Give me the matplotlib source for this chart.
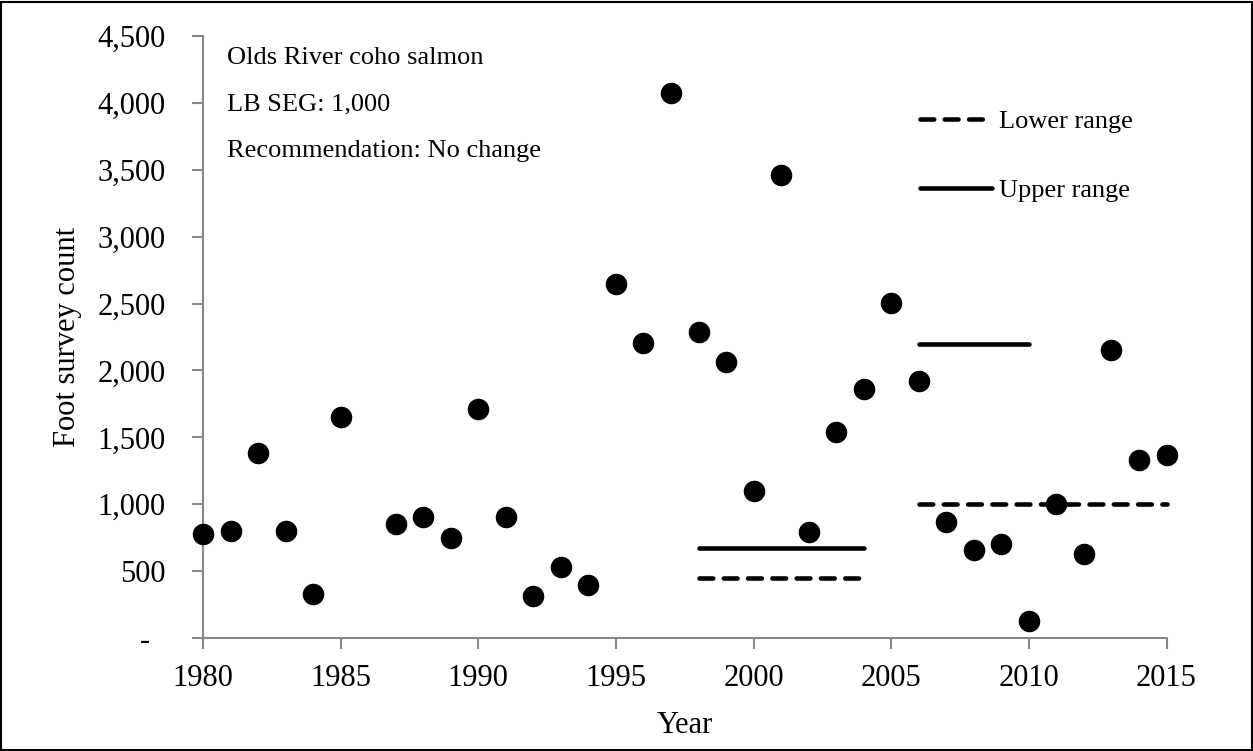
import matplotlib
matplotlib.use("Agg")
import matplotlib.pyplot as plt
from matplotlib.ticker import FuncFormatter, MultipleLocator

# Foot survey counts by year (1986 missing)
years = [1980, 1981, 1982, 1983, 1984, 1985, 1987, 1988, 1989, 1990, 1991,
         1992, 1993, 1994, 1995, 1996, 1997, 1998, 1999, 2000, 2001, 2002,
         2003, 2004, 2005, 2006, 2007, 2008, 2009, 2010, 2011, 2012, 2013,
         2014, 2015]
counts = [780, 800, 1380, 800, 327, 1650, 850, 905, 747, 1710, 905,
          312, 528, 396, 2650, 2205, 4075, 2285, 2060, 1100, 3460, 795,
          1540, 1865, 2505, 1920, 870, 660, 700, 130, 1005, 630, 2155,
          1330, 1365]

# Escapement goal ranges (start year, end year, value)
lower_range = [(1998, 2004, 450), (2006, 2015, 1000)]
upper_range = [(1998, 2004, 675), (2006, 2010, 2200)]

plt.rcParams['font.family'] = ['Liberation Serif', 'DejaVu Serif']

fig = plt.figure(figsize=(12.53, 7.51), dpi=100)
ax = fig.add_axes([0.162, 0.1505, 0.769, 0.8015])

ax.plot(years, counts, 'o', color='black', ms=14.5, zorder=3, clip_on=False)

for i, (x0, x1, v) in enumerate(lower_range):
    ax.plot([x0, x1], [v, v], color='black', lw=3.3, ls=(0, (3.0, 2.3)),
            dash_capstyle='round', solid_capstyle='round', clip_on=False,
            label='Lower range' if i == 0 else None)
for i, (x0, x1, v) in enumerate(upper_range):
    ax.plot([x0, x1], [v, v], color='black', lw=3.3, solid_capstyle='round',
            clip_on=False, label='Upper range' if i == 0 else None)

ax.set_xlim(1980, 2015)
ax.set_ylim(0, 4500)
ax.xaxis.set_major_locator(MultipleLocator(5))
ax.yaxis.set_major_locator(MultipleLocator(500))
ax.yaxis.set_major_formatter(FuncFormatter(lambda v, p: '-  ' if v == 0 else f'{int(v):,}'))

for s in ['top', 'right']:
    ax.spines[s].set_visible(False)
for s in ['left', 'bottom']:
    ax.spines[s].set_color('#888888')
    ax.spines[s].set_linewidth(1.5)
ax.tick_params(axis='both', colors='#888888', labelcolor='black', labelsize=22,
               length=8, width=1.5, direction='out')
ax.tick_params(axis='y', pad=19)
ax.tick_params(axis='x', pad=11)

ax.set_xlabel('Year', fontsize=22)
ax.set_ylabel('Foot survey count', fontsize=22)
ax.xaxis.set_label_coords(0.5, -0.146)
ax.xaxis.label.set_va('center')
ax.yaxis.set_label_coords(-0.141, 0.5)
ax.yaxis.label.set_va('center')

notes = ['Olds River coho salmon', 'LB SEG: 1,000', 'Recommendation: No change']
for txt, y in zip(notes, [0.9228, 0.8615, 0.7989]):
    fig.text(0.1812, y, txt, fontsize=19, va='center')

ax.legend(loc='upper left', bbox_to_anchor=(0.734, 0.854), bbox_transform=fig.transFigure,
          frameon=False, fontsize=19, borderpad=0, borderaxespad=0,
          handlelength=2.75, handletextpad=0.25, labelspacing=1.72)

fig.patches.append(plt.Rectangle((0.001, 0.001), 0.998, 0.997, transform=fig.transFigure,
                                 fill=False, edgecolor='black', lw=1.5))

fig.savefig('out.png', dpi=100)
